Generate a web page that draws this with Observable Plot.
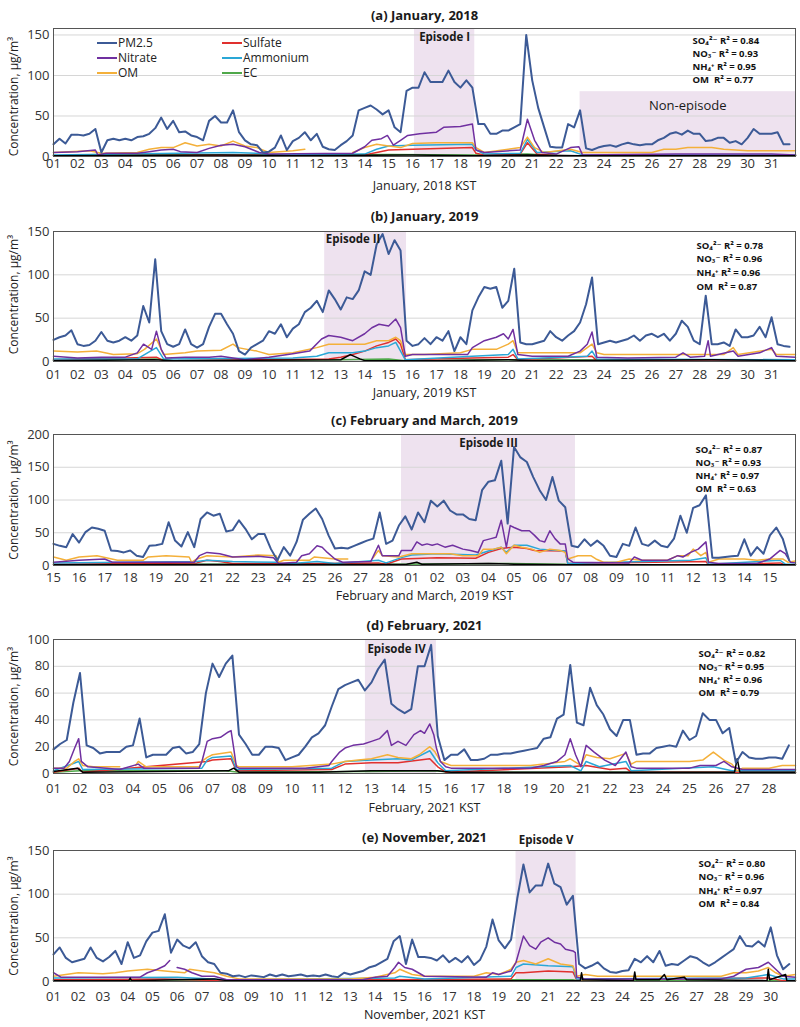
<!DOCTYPE html>
<html><head><meta charset="utf-8">
<script src="https://cdn.jsdelivr.net/npm/d3@7"></script>
<script src="https://cdn.jsdelivr.net/npm/@observablehq/plot@0.6"></script>
<style>
html,body{margin:0;padding:0;background:#fff;}
#chart{position:relative;width:800px;}
.panel{position:relative;width:800px;}
.panel svg{display:block;}
</style></head><body><div id="chart"></div>
<script>
// ---------- tick labels ----------
const labelsJan = ["01","02","03","04","05","06","07","08","09","10","11","12","13","14","15","16","17","18","19","20","21","22","23","24","25","26","27","28","29","30","31"];
const labelsFebMar = ["15","16","17","18","19","20","21","22","23","24","25","26","27","28","01","02","03","04","05","06","07","08","09","10","11","12","13","14","15"];
const labelsFeb = ["01","02","03","04","05","06","07","08","09","10","11","12","13","14","15","16","17","18","19","20","21","22","23","24","25","26","27","28"];
const labelsNov = ["01","02","03","04","05","06","07","08","09","10","11","12","13","14","15","16","17","18","19","20","21","22","23","24","25","26","27","28","29","30"];

// ---------- series ----------
const seriesNames = ["PM2.5","Sulfate","Nitrate","Ammonium","OM","EC"];
const seriesColors = ["#3c5a96","#e0302e","#7030a0","#2aa7d6","#f4b03a","#4fa84a"];
const pmPerDay = 4; // PM2.5 values every 6 hours

// Panel (a) January 2018
const pmA = [15,22,16,27, 27,26,28,34, 5,20,22,20, 22,20,24,25, 28,35,48,34, 44,30,31,26, 24,20,44,50, 42,42,57,30,
 20,15,14,5, 6,11,26,8, 19,23,30,20, 28,12,9,8, 14,19,26,57, 60,63,58,52, 57,36,30,81, 85,85,104,92,
 92,92,106,92, 85,94,85,40, 40,28,28,32, 32,36,40,150, 94,60,36,12, 11,11,40,36, 57,10,8,11, 13,14,12,15,
 17,15,14,15, 15,20,23,28, 30,27,32,28, 28,19,20,23, 23,17,19,15, 23,34,28,28, 28,30,15,15];
const nitrateA = [[0,5],[1,6],[1.75,8],[1.85,2],[2.2,4],[3.5,4],[4,6],[4.5,8],[5,9],[5.3,6],[6,5],[6.5,10],[7,14],[7.5,15],[8,12],[8.6,5],[9,3],[12.5,4],[13,12],[13.3,20],[13.7,22],[13.95,26],[14.2,14],[14.5,20],[14.8,26],[15.3,28],[16,30],[16.3,36],[17,37],[17.5,40],[17.65,8],[18,5],[19.5,8],[19.8,46],[20.1,20],[20.4,5],[21,3],[21.6,11],[21.95,12],[22.1,2],[26,3],[28,3],[30,3],[31,2]];
const omA = [[0,5],[1.5,7],[2,4],[3.5,5],[4,9],[4.5,11],[5,11],[5.5,17],[6,13],[6.5,15],[7,13],[7.5,19],[8,13],[8.5,11],[9,5],[10,7],[10.5,9],[10.7,null],[12.5,5],[13,11],[13.5,15],[14,13],[14.5,11],[15,16],[16,17],[17,17],[17.5,17],[17.65,11],[18,5],[19.5,11],[19.8,24],[20.1,11],[20.5,5],[21.6,9],[22.1,5],[25,5],[25.5,9],[26,9],[26.5,11],[27.5,11],[28,9],[29,7],[31,7]];
const ammoniumA = [[0,2],[7.5,5],[8.5,4],[9,2],[13,3],[13.5,9],[14,13],[15,14],[17.5,15],[17.65,8],[18,3],[19.5,4],[19.8,21],[20.2,5],[21.6,7],[22.1,2],[31,2]];
const sulfateA = [[0,1],[13,2],[13.5,5],[14,8],[15,9],[17.5,11],[17.65,4],[18,2],[19.5,3],[19.8,17],[20.2,3],[21,1],[31,1]];
const ecA = [[0,1],[5,2],[8,1.5],[14,2.5],[17.5,2],[19.8,3],[21,1],[31,1]];
const blackA = [[0,1],[7,2],[10,1],[15,2],[17.6,1],[19.8,2],[22,1],[31,1]];

// Panel (b) January 2019
const pmB = [25,28,30,36, 20,18,19,24, 34,24,22,24, 28,24,30,64, 45,118,35,20, 17,20,37,20, 16,20,40,55, 55,43,32,12,
 8,16,20,24, 35,32,43,28, 38,43,57,62, 70,57,82,72, 60,74,72,82, 104,100,135,147, 124,140,128,24, 18,20,27,20,
 28,24,35,12, 28,20,59,74, 86,84,86,62, 70,107,22,20, 20,22,24,35, 28,24,30,35, 45,66,97,20, 22,24,22,24,
 26,30,24,30, 32,28,32,24, 32,47,40,24, 20,76,20,20, 22,18,37,28, 28,30,40,28, 51,20,18,17];
const nitrateB = [[0,6],[1,4],[2,5],[3,5],[3.5,10],[3.76,20],[4.1,14],[4.3,35],[4.5,14],[4.7,4],[5.5,5],[6.5,5],[7,6],[7.5,4],[8,2],[9,5],[10,9],[10.7,12],[11.2,26],[11.5,30],[12,28],[12.5,24],[13,32],[13.3,39],[13.6,43],[14,41],[14.3,49],[14.5,39],[14.7,6],[15,8],[17.3,8],[17.5,16],[18,24],[18.5,28],[18.8,32],[19,26],[19.2,37],[19.4,8],[20,6],[21.5,6],[22,12],[22.3,20],[22.5,34],[22.7,5],[24,4],[26,5],[26.3,10],[26.6,5],[27.2,6],[27.35,24],[27.45,6],[28.4,12],[28.6,6],[29.5,10],[30,16],[30.2,6],[31,5]];
const omB = [[0,12],[1,11],[1.8,12],[2.5,8],[3.5,9],[3.8,14],[4.3,26],[4.6,8],[5.5,10],[6,12],[7,13],[7.5,20],[7.7,16],[8.5,12],[9,8],[10,10],[10.5,13],[11,16],[11.5,20],[12.5,20],[13,20],[13.5,24],[14,24],[14.3,28],[14.5,24],[14.7,8],[15.5,8],[17,10],[17.5,14],[18.5,14],[19,20],[19.2,24],[19.4,10],[20,10],[22,10],[22.5,20],[22.7,10],[23,8],[28,8],[28.4,16],[28.6,8],[30,14],[30.2,8],[31,8]];
const ammoniumB = [[0,3],[3.5,3],[4.3,16],[4.6,3],[10,4],[11,6],[11.5,10],[12.5,10],[13,12],[13.5,16],[14,18],[14.3,22],[14.7,2],[17.5,6],[19,8],[19.2,14],[19.4,3],[22.3,6],[22.5,12],[22.7,3],[31,2]];
const sulfateB = [[0,2],[4.3,5],[4.6,1],[11.5,3],[12,5],[12.5,8],[13,12],[13.5,18],[14,22],[14.3,26],[14.5,20],[14.7,2],[17.5,4],[19,5],[19.2,8],[19.4,2],[22.5,6],[22.7,1],[31,1]];
const ecB = [[0,1],[4.3,3],[5,1],[12,2],[14,3],[14.7,1],[19,2],[31,1]];
const blackB = [[0,1],[4.2,2],[5,1],[12,2],[12.4,8],[12.8,3],[13,1],[16,1],[19,2],[20,1],[27.5,2],[31,1]];

// Panel (c) February-March 2019
const pmC = [33,30,28,48, 35,51,58,56, 53,23,22,20, 23,15,13,30, 31,33,66,38, 29,51,28,71, 81,76,79,52, 54,69,56,40,
 48,48,25,8, 28,15,36,70, 79,87,71,46, 26,27,26,30, 34,38,41,81, 33,38,61,75, 55,81,66,99, 90,99,84,78,
 78,71,69,115, 128,130,160,64, 181,165,158,135, 115,100,135,99, 89,30,28,40, 30,38,30,15, 13,33,30,58,
 33,30,38,30, 28,41,76,50, 88,92,107,12, 12,13,14,15, 40,15,28,18, 46,58,41,8];
const nitrateC = [[0,5],[1,8],[2,10],[2.3,5],[5.5,5],[5.7,15],[6,20],[6.5,18],[7,13],[8,14],[8.6,12],[8.8,3],[9.5,5],[9.7,15],[10,18],[10.3,30],[10.5,28],[10.7,20],[11,10],[11.3,5],[12.4,6],[12.7,31],[12.85,15],[13.5,15],[13.6,23],[14,23],[14.2,36],[14.4,31],[14.6,33],[14.8,31],[15,33],[15.3,28],[15.6,31],[16,25],[16.3,23],[16.6,20],[16.8,38],[17.1,41],[17.3,43],[17.5,69],[17.7,28],[17.85,61],[18,58],[18.3,53],[18.6,53],[18.8,46],[19,38],[19.2,36],[19.4,53],[19.6,41],[19.8,33],[20,33],[20.1,10],[20.3,5],[22.5,4],[22.7,13],[23,8],[24,8],[24.4,15],[24.6,13],[24.9,20],[25.2,25],[25.5,36],[25.6,5],[26,3],[27.5,3],[28,10],[28.4,23],[28.6,18],[28.8,5],[29,4]];
const omC = [[0,13],[0.5,8],[1,13],[1.7,15],[2.5,8],[3.5,8],[3.7,13],[4.4,15],[5.3,13],[5.4,5],[5.6,10],[6,15],[7,13],[8,16],[8.7,15],[8.8,5],[9,8],[10,8],[10.2,13],[11,10],[11.5,10],[11.6,null],[12.5,12],[12.7,23],[12.85,15],[13.5,13],[14,18],[15.5,18],[16,15],[16.6,15],[16.8,25],[17.2,25],[17.5,28],[17.7,18],[18,31],[18.3,28],[18.7,25],[19,20],[19.4,25],[19.8,23],[20,20],[20.1,10],[20.5,15],[21,15],[21.2,10],[21.5,5],[22,5],[22.5,10],[23,8],[24,8],[24.4,15],[24.8,15],[25,25],[25.3,15],[25.5,20],[25.6,5],[26,10],[27,10],[27.5,8],[28,10],[28.5,10],[28.7,5],[29,7]];
const ammoniumC = [[0,4],[5.6,6],[6,8],[7,6],[8.7,5],[9,2],[10.3,6],[11,3],[12.7,8],[13,4],[13.6,12],[14,16],[15,18],[16.5,16],[17,22],[17.5,28],[17.7,20],[18,31],[18.5,31],[19,25],[20,22],[20.1,3],[24.9,8],[25.5,12],[25.6,2],[28.4,8],[28.6,2],[29,2]];
const sulfateC = [[0,2],[5.6,4],[6,8],[6.5,6],[7,3],[10.3,3],[12.7,4],[13,2],[13.6,10],[15,12],[16.5,11],[17,20],[17.5,26],[18,28],[18.5,26],[18.8,23],[20,22],[20.1,3],[25.5,6],[25.6,1],[28.4,4],[28.6,1],[29,1]];
const ecC = [[0,1],[6,2],[13.6,2],[17.5,3],[20,2],[20.1,1],[29,1]];
const blackC = [[0,1],[6,1.5],[13.8,2],[14.2,5],[14.4,2],[17,3],[18,2],[20.1,1],[29,1]];

// Panel (d) February 2021
const pmD = [18,22,25,53, 75,21,19,15, 16,16,16,20, 21,41,12,14, 14,14,19,20, 15,16,22,60, 82,72,82,88, 29,22,14,14,
 20,20,19,10, 12,14,20,27, 30,36,50,63, 66,68,70,62, 68,78,85,52, 48,45,48,80, 80,96,28,10, 14,14,18,10,
 10,11,14,14, 15,15,16,17, 18,19,26,27, 41,44,81,38, 36,64,51,44, 33,28,40,40, 14,15,15,19, 20,21,20,32,
 25,28,45,40, 40,30,34,8, 16,12,11,11, 12,12,11,21];
const nitrateD = [[0,4],[0.4,4],[0.6,9],[0.8,19],[0.95,26],[1.05,9],[1.3,5],[2,4],[2.5,3],[3.2,7],[3.4,4],[5.5,4],[5.6,9],[5.8,24],[6,26],[6.3,27],[6.6,31],[6.7,32],[6.8,19],[6.9,5],[7,4],[9.5,4],[10.4,6],[10.5,9],[10.8,16],[11,19],[11.3,21],[11.7,22],[12,24],[12.3,26],[12.6,32],[12.75,21],[13,24],[13.3,21],[13.6,29],[13.85,32],[14,30],[14.2,37],[14.35,29],[14.45,19],[14.6,9],[14.8,5],[15,4],[18,4],[18.5,6],[19,9],[19.3,14],[19.5,26],[19.7,14],[19.9,5],[20.1,21],[20.4,16],[20.8,10],[21.2,6],[21.6,16],[21.8,5],[22,4],[24,4],[24.4,6],[25,6],[25.3,9],[25.6,5],[26,3],[28,3]];
const omD = [[0,4],[0.5,4],[0.8,9],[0.95,11],[1.1,6],[1.5,5],[2.5,5],[2.55,null],[3.1,6],[3.2,9],[3.5,5],[5.5,5],[5.6,9],[5.8,12],[6,14],[6.7,16],[6.9,6],[7,5],[9,5],[10.5,7],[11,9],[11.5,10],[12,11],[12.6,14],[13,12],[13.5,11],[13.8,14],[14.2,20],[14.4,16],[14.6,9],[15,6],[18,6],[18.5,7],[19.3,9],[19.5,11],[19.9,6],[20.1,14],[20.5,12],[21,11],[21.6,15],[21.8,7],[22,9],[24,9],[24.5,10],[24.9,16],[25.3,10],[25.6,7],[25.8,2],[26,4],[27,4],[27.5,6],[28,6]];
const ammoniumD = [[0,2],[0.95,9],[1.1,3],[5.6,4],[5.8,10],[6,12],[6.7,13],[6.9,3],[10.5,4],[11,9],[12,10],[13,11],[13.5,10],[14.2,17],[14.5,8],[14.8,2],[19.5,6],[19.9,2],[20.1,9],[20.6,5],[21.6,9],[21.8,2],[24.9,5],[25.6,2],[28,2]];
const sulfateD = [[0,1],[0.95,4],[1.1,1],[5.8,9],[6,10],[6.7,11],[6.9,2],[10.5,3],[11,7],[12,8],[13,8],[14.2,11],[14.5,5],[14.8,1],[19.5,5],[20.1,6],[21,3],[21.6,4],[21.8,1],[28,1]];
const ecD = [[0,1],[1,2],[6.5,2],[7,1],[12,1.5],[14.4,2],[15,1],[28,1]];
const blackD = [[0,1.5],[0.9,4],[1.1,1],[6.6,2],[6.8,4],[7,1],[10,1],[12,2],[14.5,2],[15,1],[25.7,1],[25.8,11],[25.9,1],[28,1]];

// Panel (e) November 2021
const pmE = [31,39,27,22, 24,26,39,27, 23,28,35,20, 45,27,30,46, 56,58,77,33, 48,41,38,45, 29,22,20,10, 9,6,7,5,
 7,6,5,8, 6,8,6,7, 8,6,7,6, 8,6,5,10, 8,10,12,16, 18,22,26,46, 52,20,48,28, 28,27,24,30,
 22,27,22,29, 19,25,40,71, 47,38,48,95, 134,102,110,110, 135,112,108,88, 98,20,15,18, 22,15,11,10, 12,13,26,22,
 29,22,35,18, 20,19,24,29, 27,22,18,22, 27,32,37,52, 41,40,46,40, 62,30,14,20];
const nitrateE = [[0,10],[0.3,5],[3.5,5],[3.8,10],[4.2,14],[4.5,18],[4.7,24],[4.85,null],[5,16],[5.3,14],[5.6,10],[6,6],[6.5,6],[7,2],[12.5,2],[13,5],[13.5,6],[13.8,16],[13.95,22],[14.2,16],[14.5,14],[15,6],[17.5,5],[17.75,10],[18,8],[18.5,12],[18.7,22],[19,52],[19.25,41],[19.5,37],[19.7,45],[20,50],[20.25,45],[20.5,43],[20.7,37],[21,35],[21.1,33],[21.15,5],[21.5,3],[27,3],[27.5,6],[28,14],[28.5,16],[28.9,22],[29.2,14],[29.5,6],[30,5]];
const omE = [[0,6],[1,10],[2,9],[2.5,10],[3,12],[3.8,14],[4.5,12],[5.3,10],[5.5,14],[6,12],[6.5,10],[7,6],[7.5,3],[12,3],[13,5],[13.8,10],[14,14],[14.5,8],[15,6],[17,6],[17.5,10],[18,8],[18.5,14],[18.7,22],[19,24],[19.5,20],[20,26],[20.5,20],[21,18],[21.15,6],[21.5,8],[22,6],[27,6],[27.5,10],[28,10],[28.5,12],[28.9,16],[29.2,10],[29.5,6],[30,8]];
const ammoniumE = [[0,4],[5,5],[7,2],[13.8,4],[14,6],[15,3],[18.5,6],[18.7,16],[19,20],[20,18],[21,17],[21.15,3],[28,4],[28.9,8],[29.5,3],[30,3]];
const sulfateE = [[0,2],[4.5,3],[7,1],[18.5,3],[18.7,10],[19,10],[20,12],[21,11],[21.15,2],[28.9,4],[29.5,1],[30,1]];
const ecE = [[0,1],[5,2],[7,1],[19,2],[21,2],[21.2,1],[30,1]];
const blackE = [[0,1],[3.05,1],[3.1,4],[3.15,1],[5,2],[6.5,3],[7,1],[21.3,1],[21.35,10],[21.4,2],[23.45,1],[23.5,11],[23.55,2],[24.5,2],[24.7,8],[24.8,2],[25.5,5],[25.6,2],[28.85,1],[28.9,14],[28.95,2],[29.6,8],[29.65,1],[30,1]];

// ---------- episodes ----------
const epPanel = ["a","a","b","c","d","e"];
const epLabel = ["Episode I","Non-episode","Episode II","Episode III","Episode IV","Episode V"];
const epStart = [15.08, 22.0, 11.33, 13.6, 11.77, 18.7];
const epEnd   = [17.6, 31, 14.75, 20.4, 14.45, 21.13];
const epTop   = [null, 80, null, null, null, null];

// ---------- R² annotations ----------
const ionNames = ["SO₄²⁻", "NO₃⁻", "NH₄⁺", "OM "];
const r2A = ["0.84","0.93","0.95","0.77"];
const r2B = ["0.78","0.96","0.96","0.87"];
const r2C = ["0.87","0.93","0.97","0.63"];
const r2D = ["0.82","0.95","0.96","0.79"];
const r2E = ["0.80","0.96","0.97","0.84"];

// ---------- layout (styles only) ----------
const FONT = "'Open Sans', 'DejaVu Sans', sans-serif";
const shade = "#eee2ef";
const epLabelAnchor = ["middle","middle","start","middle","start","middle"];
const epLabelDy = [9, 14, 8, 9, 10, -10];
const epLabelDx = [0, 0, 1, 0, 2, 0];

const panels = [
 {id:"a", title:"(a) January, 2018", xTitle:"January, 2018 KST", labels:labelsJan, yMax:158, yTicks:[0,50,100,150],
  pm:pmA, nitrate:nitrateA, om:omA, ammonium:ammoniumA, sulfate:sulfateA, ec:ecA, black:blackA, r2:r2A,
  height:196, mt:28, mb:40, titleDy:-13, xTitleDy:29, tickPad:2, annDx:-103, annDy:5.6, annLH:1.40, yLabDy:4},
 {id:"b", title:"(b) January, 2019", xTitle:"January, 2019 KST", labels:labelsJan, yMax:150, yTicks:[0,50,100,150],
  pm:pmB, nitrate:nitrateB, om:omB, ammonium:ammoniumB, sulfate:sulfateB, ec:ecB, black:blackB, r2:r2B,
  height:204, mt:35, mb:39, titleDy:-15, xTitleDy:31, tickPad:8, annDx:-99, annDy:7.6, annLH:1.44, yLabDy:-2},
 {id:"c", title:"(c) February and March, 2019", xTitle:"February and March, 2019 KST", labels:labelsFebMar, yMax:200, yTicks:[0,50,100,150,200],
  pm:pmC, nitrate:nitrateC, om:omC, ammonium:ammoniumC, sulfate:sulfateC, ec:ecC, black:blackC, r2:r2C,
  height:205, mt:34, mb:40, titleDy:-14, xTitleDy:30, tickPad:7, annDx:-100, annDy:8.6, annLH:1.40, yLabDy:0},
 {id:"d", title:"(d) February, 2021", xTitle:"February, 2021 KST", labels:labelsFeb, yMax:100, yTicks:[0,20,40,60,80,100],
  pm:pmD, nitrate:nitrateD, om:omD, ammonium:ammoniumD, sulfate:sulfateD, ec:ecD, black:blackD, r2:r2D,
  height:211, mt:34, mb:43, titleDy:-14, xTitleDy:34, tickPad:10, annDx:-97, annDy:7.6, annLH:1.40, yLabDy:0},
 {id:"e", title:"(e) November, 2021", xTitle:"November, 2021 KST", labels:labelsNov, yMax:150, yTicks:[0,50,100,150],
  pm:pmE, nitrate:nitrateE, om:omE, ammonium:ammoniumE, sulfate:sulfateE, ec:ecE, black:blackE, r2:r2E,
  height:211, mt:34, mb:46, titleDy:-13, xTitleDy:33, tickPad:10, annDx:-97, annDy:6.6, annLH:1.42, yLabDy:0}
];

const gridRows = arr => arr.map((v, i) => ({t: i / pmPerDay, v}));
const pairRows = arr => arr.map(([t, v]) => ({t, v}));
const col = name => seriesColors[seriesNames.indexOf(name)];

function makePanel(p) {
  const nDays = p.labels.length;
  const eps = epPanel.map((id, i) => ({id, i, label: epLabel[i], start: epStart[i], end: epEnd[i], top: epTop[i] == null ? p.yMax : epTop[i]}))
    .filter(e => e.id === p.id);
  const lw = 1.5;
  const marks = [
    Plot.rect(eps, {x1: "start", x2: "end", y1: d => 0, y2: "top", fill: shade}),
    Plot.ruleY(p.yTicks.filter(v => v > 0 && v < p.yMax), {stroke: "#d6d6d6", strokeWidth: 1}),
    Plot.line(pairRows(p.ec), {x: "t", y: "v", stroke: col("EC"), strokeWidth: lw}),
    Plot.line(pairRows(p.sulfate), {x: "t", y: "v", stroke: col("Sulfate"), strokeWidth: lw}),
    Plot.line(pairRows(p.ammonium), {x: "t", y: "v", stroke: col("Ammonium"), strokeWidth: lw}),
    Plot.line(pairRows(p.om), {x: "t", y: "v", stroke: col("OM"), strokeWidth: lw}),
    Plot.line(pairRows(p.nitrate), {x: "t", y: "v", stroke: col("Nitrate"), strokeWidth: lw}),
    Plot.line(pairRows(p.black), {x: "t", y: "v", stroke: "#000", strokeWidth: lw}),
    Plot.line(gridRows(p.pm), {x: "t", y: "v", stroke: col("PM2.5"), strokeWidth: 2, strokeLinejoin: "round"}),
    Plot.frame({stroke: "#555", strokeWidth: 1}),
    Plot.text([p.title], {text: d => d, frameAnchor: "top", textAnchor: "middle", lineAnchor: "middle",
      dy: p.titleDy, fontWeight: 700, fontSize: 13, fill: "#1a1a1a"}),
    Plot.text([p.xTitle], {text: d => d, frameAnchor: "bottom", textAnchor: "middle", lineAnchor: "middle",
      dy: p.xTitleDy, fontSize: 12.5, fill: "#222"}),
    Plot.text(["Concentration, μg/m³"], {text: d => d, frameAnchor: "left", textAnchor: "middle", lineAnchor: "middle",
      rotate: -90, dx: -39, dy: p.yLabDy, fontSize: 12, fill: "#222"}),
    Plot.text([ionNames.map((n, i) => `${n} R² = ${p.r2[i]}`).join("\n")], {
      text: d => d, frameAnchor: "top-right", textAnchor: "start", lineAnchor: "top",
      dx: p.annDx, dy: p.annDy, fontSize: 9.5, fontWeight: 700, lineHeight: p.annLH, fill: "#111"})
  ];
  eps.forEach(e => {
    const anchor = epLabelAnchor[e.i];
    marks.push(Plot.text([e], {
      x: d => anchor === "start" ? d.start : (d.start + d.end) / 2,
      y: "top", text: "label", textAnchor: anchor, lineAnchor: "middle",
      dx: epLabelDx[e.i], dy: epLabelDy[e.i],
      fontSize: e.label === "Non-episode" ? 13 : 11.5,
      fontWeight: e.label === "Non-episode" ? 500 : 700, fill: "#1a1a1a"
    }));
  });
  return Plot.plot({
    width: 800, height: p.height,
    marginLeft: 53, marginRight: 5, marginTop: p.mt, marginBottom: p.mb,
    style: {fontFamily: FONT, fontSize: "13px", color: "#333", background: "#fff", overflow: "visible"},
    x: {domain: [0, nDays], ticks: d3.range(nDays), tickFormat: i => p.labels[i], tickSize: 0, tickPadding: p.tickPad, label: null},
    y: {domain: [0, p.yMax], ticks: p.yTicks, tickSize: 0, tickPadding: 4, label: null},
    marks
  });
}

const root = document.getElementById("chart");
panels.forEach(p => {
  const wrap = document.createElement("div");
  wrap.className = "panel";
  wrap.appendChild(makePanel(p));
  if (p.id === "a") {
    // legend overlay
    const legX = [97, 222], legY = [43, 58, 73];
    const svg = d3.create("svg").attr("width", 320).attr("height", 90)
      .style("position", "absolute").style("left", "0px").style("top", "0px")
      .style("overflow", "visible");
    seriesNames.forEach((name, i) => {
      const cx = legX[i % 2], cy = legY[Math.floor(i / 2)];
      svg.append("line").attr("x1", cx).attr("x2", cx + 20).attr("y1", cy).attr("y2", cy)
        .attr("stroke", seriesColors[i]).attr("stroke-width", 2);
      svg.append("text").attr("x", cx + 21).attr("y", cy).attr("dy", "0.35em")
        .attr("font-family", FONT).attr("font-size", 12).attr("fill", "#222").text(name);
    });
    wrap.appendChild(svg.node());
  }
  root.appendChild(wrap);
});
</script>
</body></html>
